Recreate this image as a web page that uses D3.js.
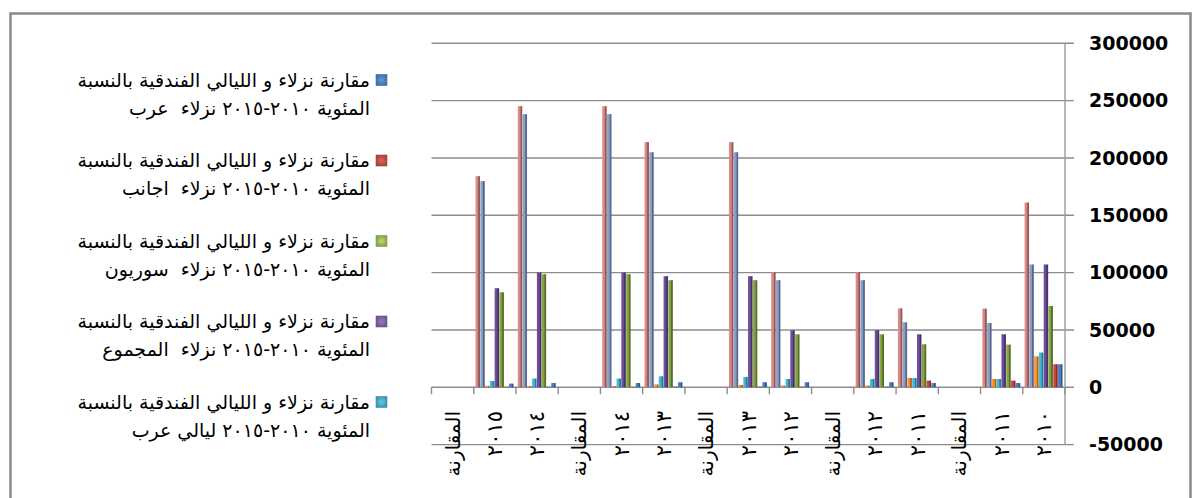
<!DOCTYPE html>
<html>
<head>
<meta charset="utf-8">
<script src="https://cdn.jsdelivr.net/npm/d3@7"></script>
<style>
body { margin: 0; background: #fff; }
svg { display: block; }
text { white-space: pre; }
</style>
</head>
<body>
<div id="chart"></div>
<script>
// categories in data order (the axis runs right to left)
var categories = ["٢٠١٠", "٢٠١١", "المقارنة", "٢٠١١", "٢٠١٢", "المقارنة", "٢٠١٢", "٢٠١٣",
    "المقارنة", "٢٠١٣", "٢٠١٤", "المقارنة", "٢٠١٤", "٢٠١٥", "المقارنة"];

var guestsArab    = [20100, 3700, 0, 3700, 4400, 0, 4400, 4400, 0, 4400, 3700, 0, 3700, 3200, 0];
var guestsForeign = [20100, 5800, 0, 5800, 500, 0, 500, 500, 0, 500, 400, 0, 400, 400, 0];
var guestsSyrian  = [70900, 37200, 0, 37500, 46200, 0, 46200, 93400, 0, 93400, 98600, 0, 98600, 82900, 0];
var guestsTotal   = [107100, 46200, 0, 46200, 49700, 0, 49700, 96900, 0, 96900, 100100, 0, 100100, 86400, 0];
var nightsArab    = [30300, 7200, 0, 8100, 7200, 0, 7200, 9000, 0, 9600, 7600, 0, 7600, 5500, 0];
var nightsForeign = [27000, 7200, 0, 8100, 1500, 0, 1500, 2000, 0, 2500, 1000, 0, 1000, 1200, 0];
var nightsSyrian  = [107100, 56100, 0, 56700, 93400, 0, 93400, 205000, 0, 205000, 238200, 0, 238200, 179800, 0];
var nightsTotal   = [161200, 68600, 0, 68900, 100300, 0, 100300, 213800, 0, 213800, 245200, 0, 245200, 184100, 0];

var yTicks = [-50000, 0, 50000, 100000, 150000, 200000, 250000, 300000];

var legendLine1 = "مقارنة نزلاء و الليالي الفندقية بالنسبة";
var legendLine2 = [
    "المئوية ٢٠١٠-٢٠١٥ نزلاء  عرب",
    "المئوية ٢٠١٠-٢٠١٥ نزلاء  اجانب",
    "المئوية ٢٠١٠-٢٠١٥ نزلاء  سوريون",
    "المئوية ٢٠١٠-٢٠١٥ نزلاء  المجموع",
    "المئوية ٢٠١٠-٢٠١٥ ليالي عرب"
];

var series = [
    {values: guestsArab,    front: "#4a78b8", side: "#2f5690", legend: "#4f81bd"},
    {values: guestsForeign, front: "#c4423e", side: "#8e2a27", legend: "#c0504d"},
    {values: guestsSyrian,  front: "#7f9c40", side: "#566f25", legend: "#9bbb59"},
    {values: guestsTotal,   front: "#674a90", side: "#45306a", legend: "#8064a2"},
    {values: nightsArab,    front: "#3fafca", side: "#237d96", legend: "#4bacc6"},
    {values: nightsForeign, front: "#ef8d30", side: "#b8601a"},
    {values: nightsSyrian,  front: "#8298bb", side: "#56698d"},
    {values: nightsTotal,   front: "#c98481", side: "#955654"}
];

var W = 1197, H = 498;
var plot = {left: 431.5, right: 1065, top: 43.3, bottom: 444.6};

var svg = d3.select("#chart").append("svg")
    .attr("width", W)
    .attr("height", H);

var defs = svg.append("defs");
series.forEach(function(s, i) {
    var g = defs.append("linearGradient")
	.attr("id", "bar" + i)
	.attr("x1", 0).attr("x2", 1).attr("y1", 0).attr("y2", 0);
    g.append("stop").attr("offset", "0%").attr("stop-color", d3.color(s.front).brighter(0.3));
    g.append("stop").attr("offset", "55%").attr("stop-color", s.front);
    g.append("stop").attr("offset", "70%").attr("stop-color", s.side);
    g.append("stop").attr("offset", "100%").attr("stop-color", s.side);
    if (s.legend) {
	var r = defs.append("radialGradient").attr("id", "leg" + i);
	r.append("stop").attr("offset", "0%").attr("stop-color", d3.color(s.legend).brighter(0.5));
	r.append("stop").attr("offset", "100%").attr("stop-color", d3.color(s.legend).darker(0.4));
    }
});
var blur = defs.append("filter").attr("id", "soft")
    .attr("x", "-50%").attr("y", "-5%").attr("width", "200%").attr("height", "110%");
blur.append("feGaussianBlur").attr("stdDeviation", 0.45);

defs.append("clipPath").attr("id", "labelclip")
    .append("rect")
    .attr("x", 0).attr("y", 395)
    .attr("width", W).attr("height", 83);

// outer frame
svg.append("rect")
    .attr("x", 10.5).attr("y", 13.5)
    .attr("width", 1180).attr("height", 500)
    .attr("fill", "none")
    .attr("stroke", "#8a8a8a")
    .attr("stroke-width", 2.5);

var y = d3.scaleLinear()
    .domain([-50000, 300000])
    .range([plot.bottom, plot.top]);

var x = d3.scaleBand()
    .domain(d3.range(categories.length))
    .range([plot.right, plot.left])
    .padding(0);

var inner = d3.scaleBand()
    .domain(d3.range(series.length))
    .range([x.bandwidth() - 2.2, 1.8])
    .padding(0);

// gridlines
svg.append("g")
    .selectAll("line")
    .data(yTicks)
    .enter().append("line")
    .attr("x1", plot.left)
    .attr("x2", plot.right + 9)
    .attr("y1", function(d) { return y(d); })
    .attr("y2", function(d) { return y(d); })
    .attr("stroke", "#8c8c8c")
    .attr("stroke-width", 1.4);

// y axis on the right
svg.append("line")
    .attr("x1", plot.right).attr("x2", plot.right)
    .attr("y1", plot.top).attr("y2", plot.bottom)
    .attr("stroke", "#9a9a9a")
    .attr("stroke-width", 1.4);

svg.append("g")
    .selectAll("text")
    .data(yTicks)
    .enter().append("text")
    .attr("x", 1089)
    .attr("y", function(d) { return y(d); })
    .attr("dy", "0.36em")
    .attr("font-family", "DejaVu Sans")
    .attr("font-weight", "bold")
    .attr("font-size", 19)
    .attr("fill", "#000")
    .text(function(d) { return d; });

// category axis ticks
svg.append("g")
    .selectAll("line")
    .data(d3.range(categories.length + 1))
    .enter().append("line")
    .attr("x1", function(d) { return plot.right - d * x.step(); })
    .attr("x2", function(d) { return plot.right - d * x.step(); })
    .attr("y1", y(0))
    .attr("y2", y(0) + 7)
    .attr("stroke", "#8c8c8c")
    .attr("stroke-width", 1.4);

// bars
var cluster = svg.append("g").attr("filter", "url(#soft)")
    .selectAll("g")
    .data(series)
    .enter().append("g");

cluster.selectAll("rect")
    .data(function(s, si) {
	return s.values.map(function(v, ci) { return {si: si, ci: ci, v: v}; });
    })
    .enter().append("rect")
    .attr("x", function(d) { return x(d.ci) + inner(d.si); })
    .attr("width", inner.bandwidth() - 0.3)
    .attr("y", function(d) { return y(d.v); })
    .attr("height", function(d) { return y(0) - y(d.v); })
    .attr("fill", function(d) { return "url(#bar" + d.si + ")"; });

// category labels, rotated and cut at the bottom of the plot area
var isYear = function(d) { return d.length === 4; };
svg.append("g")
    .attr("clip-path", "url(#labelclip)")
    .selectAll("text")
    .data(categories)
    .enter().append("text")
    .attr("transform", function(d, i) {
	return "translate(" + (x(i) + x.bandwidth() / 2) + ",411) rotate(-90)";
    })
    .attr("text-anchor", "end")
    .attr("dy", "0.35em")
    .attr("font-family", "DejaVu Sans")
    .attr("font-size", function(d) { return isYear(d) ? 21 : 20; })
    .attr("letter-spacing", function(d) { return isYear(d) ? 4 : 0; })
    .attr("fill", "#000")
    .text(function(d) { return d; });

// legend
var legend = svg.append("g")
    .selectAll("g")
    .data(legendLine2)
    .enter().append("g")
    .attr("transform", function(d, i) { return "translate(0," + (80 + i * 80.5) + ")"; });

legend.append("rect")
    .attr("x", 376).attr("y", -5.5)
    .attr("width", 11).attr("height", 11)
    .attr("fill", function(d, i) { return "url(#leg" + i + ")"; })
    .attr("stroke", function(d, i) { return d3.color(series[i].legend).darker(0.5); })
    .attr("stroke-width", 0.6);

legend.append("text")
    .attr("x", 370).attr("y", 0)
    .attr("dy", "0.35em")
    .attr("direction", "rtl")
    .attr("text-anchor", "start")
    .attr("font-family", "DejaVu Sans")
    .attr("font-size", 19)
    .attr("fill", "#000")
    .text(legendLine1);

legend.append("text")
    .attr("x", 370).attr("y", 28)
    .attr("dy", "0.35em")
    .attr("direction", "rtl")
    .attr("text-anchor", "start")
    .attr("font-family", "DejaVu Sans")
    .attr("font-size", 19)
    .attr("fill", "#000")
    .text(function(d) { return d; });
</script>
</body>
</html>
